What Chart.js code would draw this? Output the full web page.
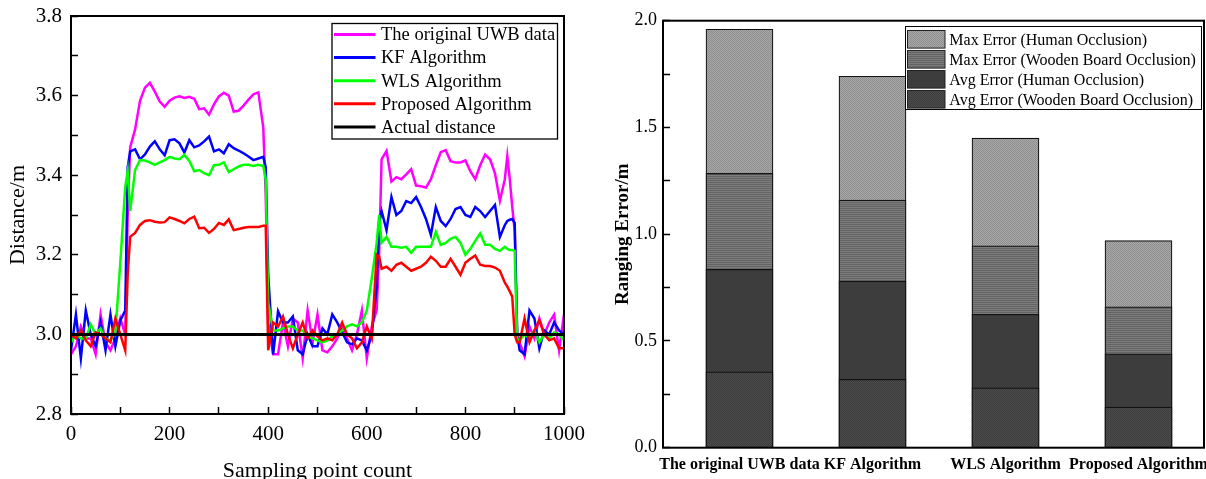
<!DOCTYPE html>
<html><head><meta charset="utf-8">
<script src="https://cdn.jsdelivr.net/npm/chart.js@4.4.1/dist/chart.umd.min.js"></script>
<style>
html,body{margin:0;padding:0;background:#fff;width:1206px;height:479px;overflow:hidden}
#c1{position:absolute;left:0;top:0}
#c2{position:absolute;left:600px;top:0}
</style></head><body>
<canvas id="c1" width="600" height="479"></canvas>
<canvas id="c2" width="606" height="479"></canvas>
<script>
// ---------- left chart data ----------
const sampleX = [0,10,20,30,40,50,60,70,80,90,100,110,115,120,130,140,150,160,170,180,190,200,210,220,230,240,250,260,270,280,290,300,310,320,330,340,350,360,370,380,390,395,400,410,420,430,440,450,460,470,480,490,500,510,520,530,540,550,560,570,580,590,600,610,620,625,630,640,650,660,670,680,690,700,710,720,730,740,750,760,770,780,790,800,810,820,830,840,850,860,870,880,885,890,895,900,905,910,920,930,940,950,960,970,980,990,1000];
const uwbData = [2.95,2.97,3.02,2.99,2.99,2.95,3.05,2.98,2.96,2.99,3.04,3.00,3.30,3.47,3.515,3.587,3.62,3.632,3.61,3.585,3.572,3.587,3.595,3.598,3.594,3.597,3.592,3.566,3.568,3.552,3.578,3.598,3.607,3.60,3.56,3.562,3.575,3.59,3.603,3.608,3.52,3.35,3.03,2.95,2.95,3.03,2.97,3.04,3.03,2.94,3.06,2.98,3.05,2.96,2.955,2.97,2.99,3.02,2.99,2.96,3.00,3.06,2.94,3.02,3.06,3.20,3.44,3.461,3.384,3.395,3.39,3.402,3.415,3.374,3.372,3.369,3.39,3.425,3.458,3.463,3.435,3.432,3.432,3.437,3.41,3.39,3.425,3.452,3.44,3.405,3.336,3.39,3.448,3.39,3.321,3.26,3.00,2.98,2.945,3.02,2.99,3.04,3.00,3.03,3.05,2.96,3.05];
const kfData = [2.96,3.05,2.94,3.06,3.00,2.97,3.03,2.96,3.05,2.97,3.035,3.06,3.42,3.46,3.465,3.44,3.452,3.472,3.485,3.465,3.45,3.488,3.49,3.48,3.457,3.488,3.47,3.475,3.485,3.497,3.46,3.465,3.455,3.478,3.468,3.462,3.455,3.447,3.438,3.442,3.446,3.42,3.15,2.95,3.058,3.03,3.03,3.045,2.96,2.95,3.00,2.97,2.97,3.015,3.00,3.05,3.03,3.005,2.98,2.975,2.99,2.985,2.96,3.00,3.12,3.28,3.31,3.262,3.345,3.30,3.31,3.335,3.33,3.345,3.32,3.29,3.25,3.32,3.285,3.272,3.29,3.315,3.32,3.30,3.295,3.32,3.31,3.295,3.31,3.325,3.245,3.275,3.285,3.288,3.29,3.28,3.00,2.96,2.95,3.06,3.04,2.965,3.01,3.00,3.03,3.01,3.00];
const wlsData = [2.98,3.00,2.99,2.99,3.025,3.00,3.015,2.99,2.985,3.005,3.18,3.37,3.41,3.31,3.413,3.438,3.437,3.432,3.426,3.432,3.438,3.446,3.442,3.44,3.451,3.436,3.41,3.413,3.405,3.40,3.425,3.426,3.432,3.408,3.415,3.422,3.426,3.426,3.423,3.426,3.423,3.39,3.08,3.01,3.01,3.015,3.02,3.02,3.01,3.01,2.995,2.99,2.985,2.98,2.985,2.995,3.00,3.01,3.02,3.025,3.02,3.03,3.06,3.14,3.23,3.30,3.23,3.245,3.22,3.22,3.218,3.22,3.205,3.22,3.22,3.22,3.22,3.258,3.225,3.23,3.24,3.245,3.23,3.20,3.215,3.235,3.254,3.225,3.225,3.215,3.21,3.22,3.215,3.212,3.212,3.21,2.99,2.985,3.00,2.99,3.01,2.98,3.00,2.99,3.005,3.00,2.985];
const proposedData = [3.00,2.99,3.01,2.985,2.97,3.005,3.00,2.99,2.98,3.04,3.00,2.96,3.15,3.245,3.255,3.275,3.285,3.287,3.283,3.281,3.282,3.294,3.29,3.285,3.279,3.29,3.296,3.267,3.268,3.255,3.265,3.28,3.275,3.289,3.262,3.265,3.268,3.27,3.27,3.27,3.273,3.273,2.96,3.03,3.02,3.045,3.00,2.965,3.00,3.03,2.99,3.01,2.995,2.985,2.99,2.985,3.00,3.03,3.00,2.99,2.965,2.98,3.02,2.99,3.20,3.196,3.165,3.17,3.16,3.175,3.18,3.17,3.16,3.165,3.17,3.18,3.195,3.185,3.17,3.17,3.19,3.17,3.15,3.18,3.19,3.198,3.175,3.172,3.172,3.168,3.16,3.13,3.12,3.108,3.095,3.00,2.98,2.98,3.04,2.98,3.01,3.035,3.00,2.985,2.99,2.965,2.965];
const actualX = [0, 1000];
const actualData = [3.0, 3.0];
const distTickLabels = ['2.8','3.0','3.2','3.4','3.6','3.8'];
const sampleTickLabels = ['0','200','400','600','800','1000'];
const lineLabels = ['The original UWB data','KF Algorithm','WLS Algorithm','Proposed Algorithm','Actual distance'];
const lineColors = ['#ff00ff','#0000ff','#00ff00','#ff0000','#000000'];

// ---------- right chart data ----------
const algorithms = ['The original UWB data','KF Algorithm','WLS Algorithm','Proposed Algorithm'];
const maxErrHuman = [1.96, 1.74, 1.45, 0.97];
const maxErrWooden = [1.285, 1.16, 0.945, 0.66];
const avgErrHuman = [0.835, 0.78, 0.625, 0.44];
const avgErrWooden = [0.355, 0.32, 0.28, 0.19];
const errTickLabels = ['0.0','0.5','1.0','1.5','2.0'];
const errLabels = ['Max Error (Human Occlusion)','Max Error (Wooden Board Occlusion)','Avg Error (Human Occlusion)','Avg Error (Wooden Board Occlusion)'];

const SERIF = '"Liberation Serif", "Times New Roman", serif';

function zeroPad(scale){ scale.paddingLeft = 0; scale.paddingRight = 0; scale.paddingTop = 0; scale.paddingBottom = 0; }

const framePlugin = {
  id: 'frame',
  afterDraw(chart, args, opts) {
    const {ctx, chartArea: a} = chart;
    ctx.save();
    ctx.strokeStyle = '#000';
    ctx.lineWidth = opts.width || 2;
    ctx.strokeRect(a.left, a.top, a.right - a.left, a.bottom - a.top);
    ctx.restore();
  }
};

const lineLegendPlugin = {
  id: 'lineLegend',
  afterDraw(chart) {
    const ctx = chart.ctx;
    ctx.save();
    ctx.fillStyle = '#fff';
    ctx.fillRect(332, 23.5, 225.5, 115.5);
    ctx.strokeStyle = '#000'; ctx.lineWidth = 1.3;
    ctx.strokeRect(332, 23.5, 225.5, 115.5);
    ctx.font = '18.5px ' + SERIF;
    ctx.textBaseline = 'middle';
    chart.data.datasets.forEach((ds, i) => {
      const y = 34.5 + i * 23.1;
      ctx.strokeStyle = ds.borderColor; ctx.lineWidth = 3;
      ctx.beginPath(); ctx.moveTo(334, y); ctx.lineTo(375.5, y); ctx.stroke();
      ctx.fillStyle = '#000';
      ctx.fillText(ds.label, 381, y + 1);
    });
    ctx.restore();
  }
};

const barLegendPlugin = {
  id: 'barLegend',
  afterDraw(chart) {
    const ctx = chart.ctx;
    ctx.save();
    ctx.fillStyle = '#fff';
    ctx.fillRect(305, 26, 296.5, 83.5);
    ctx.strokeStyle = '#000'; ctx.lineWidth = 1;
    ctx.strokeRect(305.5, 26.5, 296, 83);
    ctx.font = '16px ' + SERIF;
    ctx.textBaseline = 'middle';
    chart.data.datasets.forEach((ds, i) => {
      const y = 39.3 + i * 20;
      ctx.fillStyle = ds.backgroundColor;
      ctx.fillRect(307.5, y - 8.8, 37.5, 17.6);
      ctx.strokeStyle = '#222'; ctx.lineWidth = 1;
      ctx.strokeRect(307.5, y - 8.8, 37.5, 17.6);
      ctx.fillStyle = '#000';
      ctx.fillText(ds.label, 349.3, y + 1);
    });
    ctx.restore();
  }
};

// ---------- left chart ----------
const ds = [uwbData, kfData, wlsData, proposedData].map((arr, k) => ({
  label: lineLabels[k],
  data: sampleX.map((x, i) => ({x: x, y: arr[i]})),
  borderColor: lineColors[k],
  borderWidth: 2.5,
  pointRadius: 0,
  tension: 0,
  fill: false,
  order: 5 - k
}));
ds.push({
  label: lineLabels[4],
  data: actualX.map((x, i) => ({x: x, y: actualData[i]})),
  borderColor: lineColors[4],
  borderWidth: 3,
  pointRadius: 0,
  fill: false,
  order: 0
});

new Chart(document.getElementById('c1'), {
  type: 'line',
  data: {datasets: ds},
  options: {
    responsive: false, animation: false, devicePixelRatio: 1,
    layout: {padding: {left: 0, top: 16, right: 36, bottom: 0}},
    plugins: {legend: {display: false}, tooltip: {enabled: false}, frame: {width: 2}},
    scales: {
      x: {
        type: 'linear', min: 0, max: 1000,
        border: {display: false},
        grid: {drawOnChartArea: false, drawTicks: true, tickLength: -7, tickColor: '#000', tickWidth: 1.5},
        ticks: {stepSize: 100, autoSkip: false, maxRotation: 0, padding: 14.5, color: '#000',
          font: {family: SERIF, size: 21},
          callback: (v) => { const k = Math.round(v / 100); return k % 2 === 0 ? sampleTickLabels[k / 2] : ''; }},
        title: {display: true, text: 'Sampling point count', color: '#000', font: {family: SERIF, size: 22}, padding: {top: 0, bottom: -5}},
        afterFit: (s) => { s.height = 65; zeroPad(s); }
      },
      y: {
        type: 'linear', min: 2.8, max: 3.8,
        border: {display: false},
        grid: {drawOnChartArea: false, drawTicks: true, tickLength: -7, tickColor: '#000', tickWidth: 1.5},
        ticks: {stepSize: 0.1, autoSkip: false, padding: 16, color: '#000',
          font: {family: SERIF, size: 21},
          callback: (v) => { const k = Math.round(v * 10); return k % 2 === 0 ? distTickLabels[(k - 28) / 2] : ''; }},
        title: {display: true, text: 'Distance/m', color: '#000', font: {family: SERIF, size: 22}, padding: {top: 5, bottom: 0}},
        afterFit: (s) => { s.width = 71; zeroPad(s); }
      }
    }
  },
  plugins: [framePlugin, lineLegendPlugin]
});

// ---------- right chart ----------
const c2 = document.getElementById('c2');
const ctx2 = c2.getContext('2d');
function makePattern(base, accent, type) {
  const cv = document.createElement('canvas'); cv.width = 2; cv.height = 2;
  const g = cv.getContext('2d');
  g.fillStyle = base; g.fillRect(0, 0, 2, 2);
  g.fillStyle = accent;
  if (type === 'dots') { g.fillRect(0, 0, 1, 1); g.fillRect(1, 1, 1, 1); }
  else if (type === 'hlines') { g.fillRect(0, 0, 2, 1); }
  return ctx2.createPattern(cv, 'repeat');
}
const barFills = [
  makePattern('#a8a8a8', '#8e8e8e', 'dots'),
  makePattern('#7c7c7c', '#646464', 'hlines'),
  makePattern('#3d3d3d', '#3d3d3d', 'solid'),
  makePattern('#4c4c4c', '#3c3c3c', 'dots')
];
const barSeries = [maxErrHuman, maxErrWooden, avgErrHuman, avgErrWooden];

new Chart(c2, {
  type: 'bar',
  data: {
    datasets: barSeries.map((arr, k) => ({
      label: errLabels[k],
      data: arr.map((v, i) => ({x: i + 1, y: v})),
      backgroundColor: barFills[k],
      borderColor: '#111',
      borderWidth: 1.2,
      borderSkipped: 'bottom',
      barThickness: 67,
      grouped: false,
      order: 4 - k
    }))
  },
  options: {
    responsive: false, animation: false, devicePixelRatio: 1,
    layout: {padding: {left: 0, top: 20.7, right: 2, bottom: 0}},
    plugins: {legend: {display: false}, tooltip: {enabled: false}, frame: {width: 2}},
    scales: {
      x: {
        type: 'linear', min: 0.425, max: 4.4925, offset: false,
        border: {display: false},
        grid: {offset: false, drawOnChartArea: false, drawTicks: true, tickLength: -8, tickColor: '#000', tickWidth: 1.5},
        afterBuildTicks: (s) => { s.ticks = algorithms.map((_, i) => ({value: i + 1})); },
        ticks: {autoSkip: false, maxRotation: 0, minRotation: 0, padding: 15.4, color: '#000',
          font: {family: SERIF, size: 16, weight: 'bold'},
          callback: (v) => algorithms[Math.round(v) - 1]},
        afterFit: (s) => { s.height = 479 - 447.7; zeroPad(s); }
      },
      y: {
        type: 'linear', min: 0, max: 2.0,
        border: {display: false},
        grid: {drawOnChartArea: false, drawTicks: true, tickLength: -7, tickColor: '#000', tickWidth: 1.5},
        ticks: {stepSize: 0.25, autoSkip: false, padding: 13, color: '#000',
          font: {family: SERIF, size: 18},
          callback: (v) => { const k = Math.round(v * 4); return k % 2 === 0 ? errTickLabels[k / 2] : ''; }},
        title: {display: true, text: 'Ranging Error/m', color: '#000', font: {family: SERIF, size: 19, weight: 'bold'}, padding: {top: 12, bottom: 0}},
        afterFit: (s) => { s.width = 63; zeroPad(s); }
      }
    }
  },
  plugins: [framePlugin, barLegendPlugin]
});
</script>
</body></html>
